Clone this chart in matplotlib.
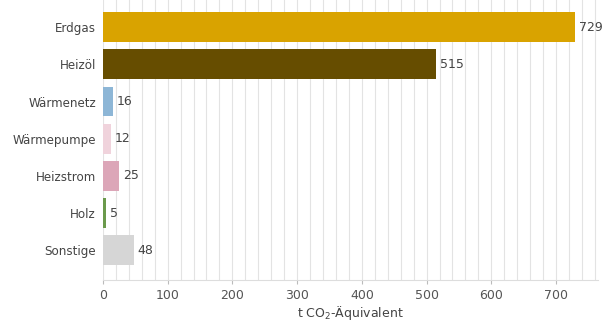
import numpy as np
import matplotlib
matplotlib.use('Agg')
import matplotlib.pyplot as plt
from matplotlib.ticker import MultipleLocator

categories = ['Erdgas', 'Heizöl', 'Wärmenetz', 'Wärmepumpe', 'Heizstrom', 'Holz', 'Sonstige']
values = [729, 515, 16, 12, 25, 5, 48]
colors = ['#D9A300', '#664D00', '#8DB6D6', '#F0D3DC', '#DCA6B8', '#6B9A4C', '#D6D6D6']

plt.rcParams['font.family'] = ['DejaVu Sans']
fig = plt.figure(figsize=(6.16, 3.22), dpi=100)
ax = fig.add_axes([0.167, 0.13, 0.804, 0.87])

y = np.arange(len(categories))
ax.barh(y, values, height=0.8, color=colors, zorder=3)
for yi, v in zip(y, values):
    ax.text(v + 6, yi, str(v), va='center', ha='left', fontsize=9, color='#444444')

ax.set_yticks(y)
ax.set_yticklabels(categories, fontsize=8.6, color='#444444')
ax.set_ylim(6.8, -0.73)
ax.set_xlim(0, 765)
ax.xaxis.set_major_locator(MultipleLocator(100))
ax.xaxis.set_minor_locator(MultipleLocator(20))
ax.grid(axis='x', which='both', color='#E3E3E3', linewidth=0.8, zorder=0)
ax.tick_params(axis='x', which='major', labelsize=9, labelcolor='#555555', color='#BBBBBB', length=3)
ax.tick_params(axis='x', which='minor', length=0)
ax.tick_params(axis='y', length=0, pad=5)
for s in ['top', 'right', 'left']:
    ax.spines[s].set_visible(False)
ax.spines['bottom'].set_color('#DDDDDD')
ax.set_xlabel('t CO$_2$-Äquivalent', fontsize=9, color='#444444', labelpad=1)

fig.savefig('out.png', dpi=100)
